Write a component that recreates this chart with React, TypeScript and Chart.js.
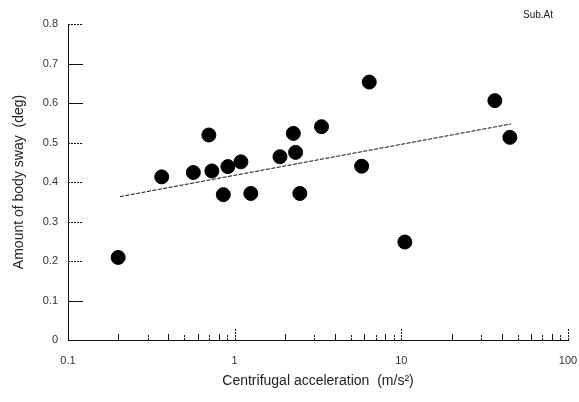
import React, { useEffect, useRef } from "react";
import { Chart, registerables } from "chart.js";

Chart.register(...registerables);

const accel = [0.2, 0.365, 0.565, 0.7, 0.73, 0.855, 0.91, 1.09, 1.25, 1.87, 2.25, 2.32, 2.46, 3.32, 5.78, 6.42, 10.5, 36.4, 44.8];
const sway = [0.209, 0.413, 0.424, 0.519, 0.428, 0.368, 0.439, 0.451, 0.371, 0.464, 0.523, 0.475, 0.371, 0.54, 0.44, 0.653, 0.248, 0.606, 0.513];
const fitX = [0.205, 45.6];
const fitY = [0.363, 0.547];
const xTickValues = [0.1, 1, 10, 100];
const yTickValues = [0, 0.1, 0.2, 0.3, 0.4, 0.5, 0.6, 0.7, 0.8];
const subjectLabel = "Sub.At";

const FONT = "'Liberation Sans', Arial, sans-serif";

const tickPlugin = {
  id: "inwardTicks",
  beforeDatasetsDraw(chart: any) {
    const { ctx, chartArea, scales } = chart;
    const x = scales.x;
    const y = scales.y;
    ctx.save();
    ctx.strokeStyle = "#111";
    ctx.lineWidth = 1;
    // y inward ticks
    yTickValues.forEach((v, i) => {
      if (v === 0) return;
      const py = Math.round(y.getPixelForValue(v)) + 0.5;
      ctx.setLineDash(i === 1 || i === 6 || i === 7 ? [] : [2, 1]);
      ctx.beginPath();
      ctx.moveTo(chartArea.left, py);
      ctx.lineTo(chartArea.left + 15, py);
      ctx.stroke();
    });
    // x minor ticks
    [0.1, 1, 10].forEach((d) => {
      for (let k = 2; k <= 9; k++) {
        const px = Math.round(x.getPixelForValue(k * d)) + 0.5;
        ctx.beginPath();
        ctx.setLineDash(k % 2 === 0 ? [] : [2, 1]);
        ctx.moveTo(px, chartArea.bottom);
        ctx.lineTo(px, chartArea.bottom - 6);
        ctx.stroke();
      }
    });
    ctx.setLineDash([2, 1]);
    [1, 10, 100].forEach((d) => {
      const px = Math.round(x.getPixelForValue(d)) + 0.5;
      ctx.beginPath();
      ctx.moveTo(px, chartArea.bottom);
      ctx.lineTo(px, chartArea.bottom - 12);
      ctx.stroke();
    });
    // subject label
    ctx.setLineDash([]);
    ctx.fillStyle = "#222";
    ctx.font = `10px ${FONT}`;
    ctx.textAlign = "right";
    ctx.textBaseline = "middle";
    ctx.fillText(subjectLabel, chartArea.right - 15, chartArea.top - 9);
    ctx.restore();
  },
};

export default function App() {
  const ref = useRef<HTMLCanvasElement>(null);
  useEffect(() => {
    const canvas = ref.current;
    if (!canvas) return;
    const chart = new Chart(canvas, {
      type: "scatter",
      data: {
        datasets: [
          {
            type: "line",
            data: fitX.map((v, i) => ({ x: v, y: fitY[i] })),
            borderColor: "#111",
            borderWidth: 1,
            borderDash: [4, 1.5],
            pointRadius: 0,
            fill: false,
          } as any,
          {
            data: accel.map((v, i) => ({ x: v, y: sway[i] })),
            backgroundColor: "#000",
            borderColor: "#000",
            pointRadius: 7,
            pointHoverRadius: 7,
          },
        ],
      },
      plugins: [tickPlugin],
      options: {
        animation: false,
        responsive: false,
        events: [],
        layout: { padding: { top: 24, right: 11, left: 0, bottom: 0 } },
        plugins: { legend: { display: false }, tooltip: { enabled: false } },
        scales: {
          x: {
            type: "logarithmic",
            min: 0.1,
            max: 100,
            afterBuildTicks: (s: any) => {
              s.ticks = xTickValues.map((v) => ({ value: v }));
            },
            afterFit: (s: any) => {
              s.height = 62;
              s.paddingLeft = 0;
              s.paddingRight = 0;
            },
            grid: { display: false, drawTicks: false },
            border: { display: true, color: "#111", dash: [2, 1], width: 1 },
            ticks: {
              padding: 14,
              color: "#333",
              font: { family: FONT, size: 11 },
              maxRotation: 0,
              autoSkip: false,
              callback: (v: any) => String(v),
            },
            title: {
              display: true,
              text: "Centrifugal acceleration  (m/s²)",
              color: "#222",
              font: { family: FONT, size: 14 },
              padding: { top: 0, bottom: 12 },
            },
          },
          y: {
            min: 0,
            max: 0.8,
            afterBuildTicks: (s: any) => {
              s.ticks = yTickValues.map((v) => ({ value: v }));
            },
            afterFit: (s: any) => {
              s.width = 68;
              s.paddingTop = 0;
              s.paddingBottom = 0;
            },
            grid: { display: false, drawTicks: false },
            border: { display: true, color: "#111", dash: [2, 1], width: 1 },
            ticks: {
              padding: 10,
              color: "#333",
              font: { family: FONT, size: 11 },
              callback: (v: any) => (v === 0 ? "0" : Number(v).toFixed(1)),
            },
            title: {
              display: true,
              text: "Amount of body sway  (deg)",
              color: "#222",
              font: { family: FONT, size: 14 },
              padding: { top: 11, bottom: 0 },
            },
          },
        },
      },
    });
    return () => chart.destroy();
  }, []);
  return (
    <div style={{ position: "fixed", left: 0, top: 0, width: 579, height: 402, background: "#fff" }}>
      <canvas ref={ref} width={579} height={402} style={{ display: "block" }} />
    </div>
  );
}
